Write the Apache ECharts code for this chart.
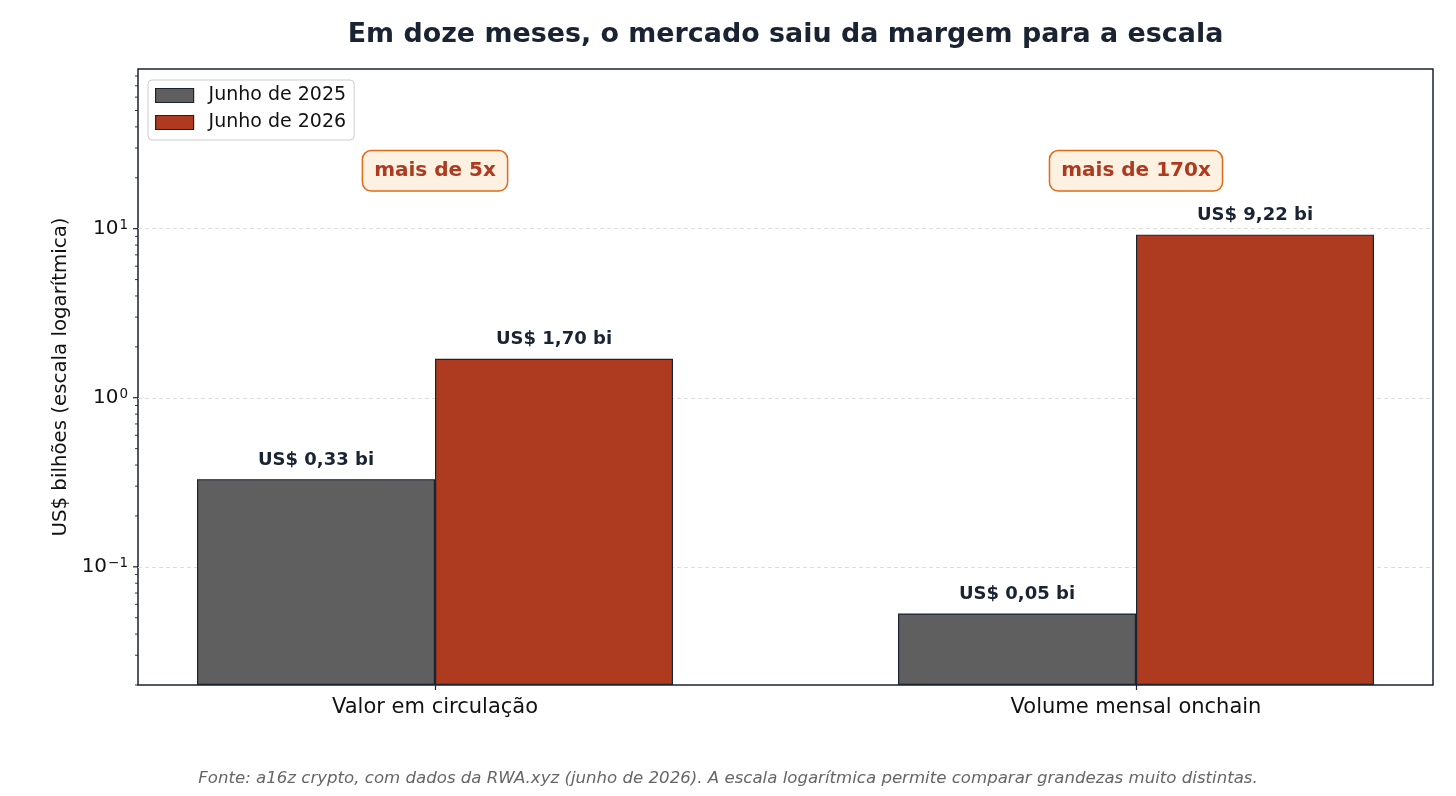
<!DOCTYPE html>
<html><head><meta charset="utf-8">
<script src="https://cdn.jsdelivr.net/npm/echarts@6/dist/echarts.min.js"></script>
<style>html,body{margin:0;padding:0;background:#fff}#c{width:1456px;height:796px}</style>
</head><body><div id="c"></div>
<script>
// ---- data ----
const categories = ['Valor em circulação', 'Volume mensal onchain'];
const seriesNames = ['Junho de 2025', 'Junho de 2026'];
const values2025 = [0.33, 0.053];
const values2026 = [1.70, 9.22];
const labels2025 = ['US$ 0,33 bi', 'US$ 0,05 bi'];
const labels2026 = ['US$ 1,70 bi', 'US$ 9,22 bi'];
const annotationTexts = ['mais de 5x', 'mais de 170x'];
const annotationValues = [22, 22];
const yMin = 0.02;
const yMax = 88;
const majorTicks = [0.1, 1, 10];
const minorTicks = [0.02, 0.03, 0.04, 0.05, 0.06, 0.07, 0.08, 0.09,
                    0.2, 0.3, 0.4, 0.5, 0.6, 0.7, 0.8, 0.9,
                    2, 3, 4, 5, 6, 7, 8, 9,
                    20, 30, 40, 50, 60, 70, 80];
const titleText = 'Em doze meses, o mercado saiu da margem para a escala';
const yAxisName = 'US$ bilhões (escala logarítmica)';
const footerText = 'Fonte: a16z crypto, com dados da RWA.xyz (junho de 2026). A escala logarítmica permite comparar grandezas muito distintas.';

// ---- style ----
const FONT = 'DejaVu Sans';
const NAVY = '#1a2332';
const GRAY = '#5f5f5f';
const RED = '#ae3a1f';

const chart = echarts.init(document.getElementById('c'));

const tickData = majorTicks.map(v => [0, v, 1]).concat(minorTicks.map(v => [0, v, 0]));

function supLabel(v) {
  const l = Math.log10(v);
  const e = Math.round(l);
  if (Math.abs(l - e) > 1e-6 || !majorTicks.some(m => Math.abs(m - v) / m < 1e-6)) return '';
  return '{b|10}{s|' + (e < 0 ? '\u2212' : '') + Math.abs(e) + '}';
}

const plotLeft = 138, plotTop = 69, plotW = 1295, plotH = 616;
// category points at 435 and 1136 (boundaryGap false)
const catLeft = 435, catSpan = 701;

chart.setOption({
  animation: false,
  textStyle: { fontFamily: FONT },
  title: [
    {
      text: titleText, left: 785.5, textAlign: 'center', top: 22, padding: 0,
      textStyle: { fontFamily: FONT, fontSize: 26.9, fontWeight: 'bold', color: NAVY }
    },
    {
      text: footerText, left: 'center', top: 770, padding: 0,
      textStyle: { fontFamily: FONT, fontSize: 16.6, fontStyle: 'italic', fontWeight: 'normal', color: '#666666' }
    }
  ],
  legend: {
    data: seriesNames,
    orient: 'vertical',
    left: 148, top: 80,
    padding: [6, 8, 8, 7],
    itemGap: 8,
    itemWidth: 38, itemHeight: 14,
    icon: 'rect',
    backgroundColor: '#ffffff',
    borderColor: '#cccccc', borderWidth: 1, borderRadius: 4,
    itemStyle: { borderColor: NAVY, borderWidth: 1.2 },
    textStyle: { fontFamily: FONT, fontSize: 19, color: '#111111', padding: [0, 0, 0, 10] },
    z: 10
  },
  grid: [
    { left: plotLeft, top: plotTop, width: plotW, height: plotH, show: true,
      borderColor: NAVY, borderWidth: 1.5, backgroundColor: 'transparent' },
    { left: catLeft, top: plotTop, width: catSpan, height: plotH, show: false }
  ],
  xAxis: [
    { gridIndex: 0, type: 'category', data: categories, show: false },
    { gridIndex: 1, type: 'category', data: categories, boundaryGap: false,
      axisLine: { show: false },
      axisTick: { show: true, length: 5, lineStyle: { color: NAVY, width: 1.2 } },
      axisLabel: { fontFamily: FONT, fontSize: 21, color: '#111111', margin: 12 },
      splitLine: { show: false } }
  ],
  yAxis: [
    { gridIndex: 0, type: 'log', logBase: 10, min: yMin, max: yMax,
      name: yAxisName, nameLocation: 'middle', nameGap: 63,
      nameTextStyle: { fontFamily: FONT, fontSize: 19.8, color: '#111111' },
      axisLine: { show: false },
      axisTick: { show: false },
      minorTick: { show: false },
      axisLabel: {
        margin: 10,
        formatter: supLabel,
        rich: {
          b: { fontFamily: FONT, fontSize: 20, color: '#111111' },
          s: { fontFamily: FONT, fontSize: 13.5, color: '#111111', verticalAlign: 'top', padding: [0, 0, 6, 1] }
        }
      },
      splitLine: { show: true, showMinLine: false, showMaxLine: false,
        lineStyle: { color: '#dddddd', type: [4, 3], width: 1 } }
    },
    { gridIndex: 1, type: 'log', logBase: 10, min: yMin, max: yMax, startValue: yMin, show: false,
      splitLine: { show: false } }
  ],
  series: [
    {
      name: seriesNames[0], type: 'bar', xAxisIndex: 1, yAxisIndex: 1, clip: false,
      data: values2025, barWidth: 238, barGap: '0%',
      itemStyle: { color: GRAY, borderColor: NAVY, borderWidth: 1.2 },
      label: { show: true, position: 'top', distance: 10,
        formatter: p => labels2025[p.dataIndex],
        fontFamily: FONT, fontSize: 18, fontWeight: 'bold', color: NAVY }
    },
    {
      name: seriesNames[1], type: 'bar', xAxisIndex: 1, yAxisIndex: 1, clip: false,
      data: values2026, barWidth: 238, barGap: '0%',
      itemStyle: { color: RED, borderColor: NAVY, borderWidth: 1.2 },
      label: { show: true, position: 'top', distance: 10,
        formatter: p => labels2026[p.dataIndex],
        fontFamily: FONT, fontSize: 18, fontWeight: 'bold', color: NAVY }
    },
    {
      type: 'scatter', xAxisIndex: 1, yAxisIndex: 1, silent: true, clip: false,
      data: annotationValues.map((v, i) => [i, v]),
      symbolSize: 2, itemStyle: { color: 'rgba(0,0,0,0)', opacity: 1 },
      label: { show: true, position: 'inside', opacity: 1,
        formatter: p => annotationTexts[p.dataIndex],
        fontFamily: FONT, fontSize: 20, fontWeight: 'bold', color: RED,
        backgroundColor: '#fdf1e2', borderColor: '#e06a17', borderWidth: 1.5, borderRadius: 8,
        padding: [10, 11, 9, 11] },
      z: 5
    },
    {
      type: 'custom', xAxisIndex: 0, yAxisIndex: 0, silent: true, clip: false,
      data: tickData,
      renderItem: (params, api) => {
        const cs = params.coordSys;
        const y = api.coord([api.value(0), api.value(1)])[1];
        const major = api.value(2) === 1;
        const len = major ? 5 : 3;
        return { type: 'line',
          shape: { x1: cs.x - len, y1: y, x2: cs.x, y2: y },
          style: { stroke: NAVY, lineWidth: major ? 1.2 : 0.9 } };
      },
      z: 6
    }
  ]
});
</script></body></html>
